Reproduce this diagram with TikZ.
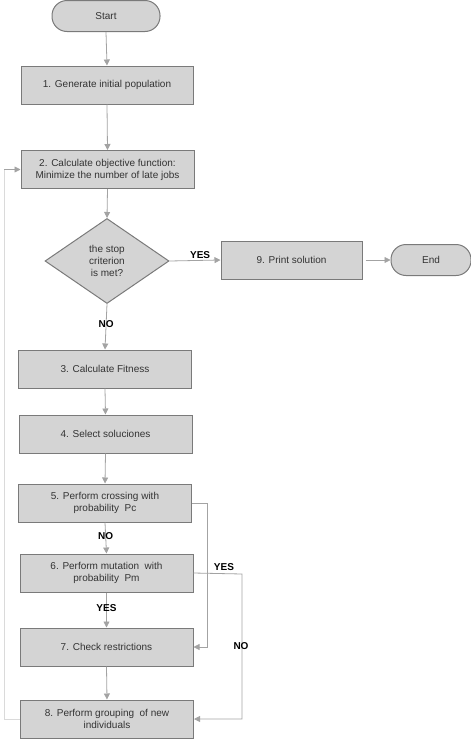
\documentclass[tikz,border=0pt]{standalone}
\usepackage{fontspec}
\setmainfont{Liberation Sans}
\usetikzlibrary{arrows.meta,shapes.geometric}
\definecolor{boxfill}{HTML}{D4D4D4}
\definecolor{boxline}{HTML}{7A7A7A}
\definecolor{arrowc}{HTML}{A3A3A3}
\definecolor{faintc}{HTML}{DADADA}
\definecolor{txt}{HTML}{333333}
\begin{document}
\begin{tikzpicture}[x=1pt,y=-1pt,
  font=\fontsize{10}{12}\selectfont,
  procbox/.style={draw=boxline,fill=boxfill,line width=1pt,text=txt,minimum width=173pt,minimum height=38pt,align=center,inner sep=0pt},
  termbox/.style={draw=boxline,fill=boxfill,line width=1pt,text=txt,rounded corners=15pt,minimum height=31pt,inner sep=0pt},
  decbox/.style={draw=boxline,fill=boxfill,line width=1pt,text=txt,diamond,minimum width=124pt,minimum height=85pt,inner sep=0pt,align=center,aspect=1.46},
  conn/.style={draw=arrowc,line width=0.8pt,-{Triangle[length=6pt,width=6pt]}},
  plainconn/.style={draw=faintc,line width=0.8pt},
  lbl/.style={font=\fontsize{10}{12}\selectfont\bfseries,text=black,inner sep=1pt}]
\useasboundingbox (0,0) rectangle (471,739);
\node[termbox,minimum width=108pt] (start) at (106,16) {Start};
\node[procbox,minimum width=172pt] (b1) at (107,85) {1. Generate initial population};
\node[procbox] (b2) at (107.5,169.5) {2. Calculate objective function:\\Minimize the number of late jobs};
\node[decbox] (d) at (107,261) {the stop\\criterion\\is met?};
\node[procbox,minimum width=141pt] (b9) at (291.5,260) {9. Print solution};
\node[termbox,minimum width=80pt] (end) at (431,260) {End};
\node[procbox] (b3) at (105,369) {3. Calculate Fitness};
\node[procbox] (b4) at (105.5,434) {4. Select soluciones};
\node[procbox] (b5) at (105,503) {5. Perform crossing with\\probability~ Pc};
\node[procbox] (b6) at (106.5,573) {6. Perform mutation~ with\\probability~ Pm};
\node[procbox] (b7) at (106.5,647) {7. Check restrictions};
\node[procbox] (b8) at (107,719) {8. Perform grouping~ of new\\individuals};

\draw[conn] (start.south) -- (b1.north);
\draw[conn] (b1.south) -- (b2.north);
\draw[conn] (b2.south) -- (d.north);
\draw[conn] (d.east) -- node[lbl,above,pos=0.6] {YES} (b9.west);
\draw[conn] ([xshift=3pt]b9.east) -- (end.west);
\draw[conn] (d.south) -- node[lbl,pos=0.45] {NO} (b3.north);
\draw[conn] (b3.south) -- (b4.north);
\draw[conn] (b4.south) -- (b5.north);
\draw[conn] (b5.south) -- node[lbl,pos=0.45] {NO} (b6.north);
\draw[conn] (b6.south) -- node[lbl,pos=0.45] {YES} (b7.north);
\draw[conn] (b7.south) -- (b8.north);
\coordinate (r5) at (207,503);
\coordinate (r6) at (242,574);
\draw[conn] (b5.east) -- (r5) |- (b7.east);
\draw[conn] (b6.east) -- (r6) |- (b8.east);
\node[lbl] at (224,567) {YES};
\node[lbl] at (241,646) {NO};
\coordinate (l8) at (4,719);
\coordinate (l2) at (4,169.5);
\draw[plainconn] (b8.west) -- (l8) -- (l2);
\draw[conn] (l2) -- (b2.west);
\end{tikzpicture}
\end{document}
